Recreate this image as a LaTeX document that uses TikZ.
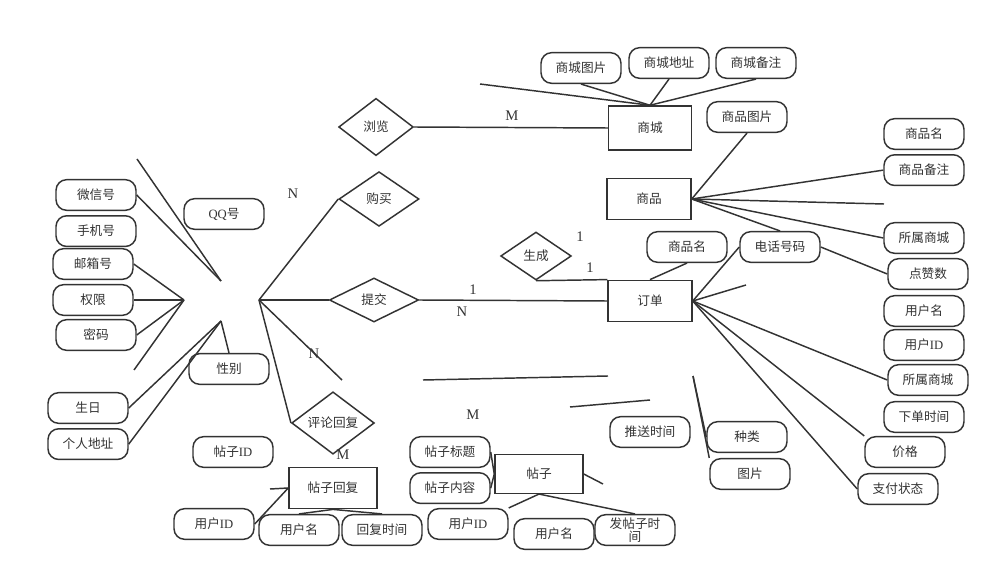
\documentclass[tikz,border=0pt]{standalone}
\usepackage{fontspec}
\setmainfont{Liberation Serif}
\newfontfamily\cjk{Noto Sans CJK SC}
\usetikzlibrary{shapes.geometric,positioning}

\begin{document}
\begin{tikzpicture}[
  x=0.75pt, y=-0.75pt, node distance=3pt,
  font=\cjk\fontsize{9.5}{11}\selectfont,
  attr/.style={rectangle,draw=black!80,line width=1.1pt,rounded corners=8pt,fill=white,align=center,minimum width=60pt,minimum height=23pt,inner sep=1pt,text=black!80},
  ent/.style={rectangle,draw=black!80,line width=1.1pt,fill=white,minimum width=63pt,minimum height=31pt,inner sep=1pt,text=black!80},
  rel/.style={diamond,draw=black!80,line width=1.1pt,fill=white,inner sep=0pt,minimum width=58pt,minimum height=42pt,text=black!80},
  card/.style={font=\rmfamily\fontsize{11}{12}\selectfont,text=black!80,inner sep=0pt},
  ln/.style={draw=black!80,line width=1.1pt}]
\useasboundingbox (0,0) rectangle (1001,581);
% user attributes (left)
\node[attr] (wx) at (96,195) {微信号};
\node[attr, below=of wx] (sj) {手机号};
\node[attr] (yx) at (93,264) {邮箱号};
\node[attr] (qx) at (93,300) {权限};
\node[attr] (mm) at (96,335) {密码};
\node[attr] (qq) at (224,214) {{\rmfamily QQ}号};
\node[attr] (xb) at (229,369) {性别};
\node[attr] (sr) at (88,408) {生日};
\node[attr, below=of sr] (dz) {个人地址};
% relationships
\node[rel, minimum width=56pt, minimum height=43pt] (ll) at (376,127) {浏览};
\node[rel, minimum width=60pt, minimum height=41pt] (gm) at (379,199) {购买};
\node[rel, minimum width=67pt, minimum height=33pt] (tj) at (374,300) {提交};
\node[rel, minimum width=53pt, minimum height=36pt] (sc) at (536,256) {生成};
\node[rel, minimum width=62pt, minimum height=32pt] (pl) at (333,423) {评论回复};
% entities
\node[ent, minimum width=62pt, minimum height=33pt] (shop) at (650,128) {商城};
\node[ent] (goods) at (649,199) {商品};
\node[ent] (order) at (650,301) {订单};
\node[ent, minimum width=66pt] (reply) at (333,488) {帖子回复};
\node[ent, minimum width=66pt, minimum height=29pt] (post) at (539,474) {帖子};
% shop attributes
\node[attr] (sctp) at (581,68) {商城图片};
\node[attr] (scdz) at (669,63) {商城地址};
\node[attr] (scbz) at (756,63) {商城备注};
% goods attributes
\node[attr] (sptp) at (747,117) {商品图片};
\node[attr] (spm) at (924,134) {商品名};
\node[attr, below=of spm] (spbz) {商品备注};
\node[attr] (sssc) at (924,238) {所属商城};
\node[attr] (dzs) at (928,274) {点赞数};
% order attributes
\node[attr] (ddspm) at (687,247) {商品名};
\node[attr] (dh) at (780,247) {电话号码};
\node[attr] (yhm) at (924,311) {用户名};
\node[attr] (yhid) at (924,345) {用户{\rmfamily ID}};
\node[attr] (sssc2) at (928,380) {所属商城};
\node[attr] (xdsj) at (924,417) {下单时间};
\node[attr] (jg) at (905,452) {价格};
\node[attr] (zfzt) at (898,489) {支付状态};
% post attributes
\node[attr] (tsj) at (650,432) {推送时间};
\node[attr] (zl) at (747,437) {种类};
\node[attr] (tp) at (750,474) {图片};
\node[attr] (tzbt) at (450,452) {帖子标题};
\node[attr, below=of tzbt] (tznr) {帖子内容};
\node[attr] (tzid) at (468,524) {用户{\rmfamily ID}};
\node[attr] (tzyhm) at (554,534) {用户名};
\node[attr, font=\cjk\fontsize{9.5}{9.5}\selectfont] (ftsj) at (635,530) {发帖子时\\间};
% reply attributes
\node[attr] (tid) at (233,452) {帖子{\rmfamily ID}};
\node[attr] (hfid) at (214,524) {用户{\rmfamily ID}};
\node[attr] (hfyhm) at (299,530) {用户名};
\node[attr] (hfsj) at (382,530) {回复时间};
% loose ends
\coordinate (hl) at (184,300);
\coordinate (hm) at (221,281);
\coordinate (hb) at (221,321);
\coordinate (hr) at (259,300);
\coordinate (e1) at (134,370);
\coordinate (e2) at (137,159);
\coordinate (e3) at (342,380);
\coordinate (e4) at (480,84);
\coordinate (e5) at (884,204);
\coordinate (e6) at (746,285);
\coordinate (e7) at (423,380);
\coordinate (e8) at (608,376);
\coordinate (e9) at (570,407);
\coordinate (e10) at (650,400);
\coordinate (e11) at (693,376);
\coordinate (e12) at (603,484);
\coordinate (e13) at (270,489);
% connectors
\draw[ln] (yx.east) -- (hl);
\draw[ln] (qx.east) -- (hl);
\draw[ln] (mm.east) -- (hl);
\draw[ln] (hl) -- (e1);
\draw[ln] (e2) -- (hm);
\draw[ln] (wx.east) -- (hm);
\draw[ln] (hb) -- (sr.east);
\draw[ln] (hb) -- (dz.east);
\draw[ln] (hb) -- (xb.north);
\draw[ln] (hr) -- (gm.west);
\draw[ln] (hr) -- (tj.west);
\draw[ln] (hr) -- (e3);
\draw[ln] (hr) -- (pl.west);
\draw[ln] (ll.east) -- (shop.west);
\draw[ln] (e4) -- (shop.north);
\draw[ln] (sctp.south) -- (shop.north);
\draw[ln] (scdz.south) -- (shop.north);
\draw[ln] (scbz.south) -- (shop.north);
\draw[ln] (goods.east) -- (sptp.south);
\draw[ln] (goods.east) -- (spbz.west);
\draw[ln] (goods.east) -- (e5);
\draw[ln] (goods.east) -- (sssc.west);
\draw[ln] (goods.east) -- (dh.north);
\draw[ln] (dh.east) -- (dzs.west);
\draw[ln] (order.east) -- (dh.west);
\draw[ln] (order.east) -- (e6);
\draw[ln] (order.east) -- (sssc2.west);
\draw[ln] (order.east) -- (jg.north west);
\draw[ln] (order.east) -- (zfzt.west);
\draw[ln] (ddspm.south) -- (order.north);
\draw[ln] (sc.south) -- (order.north west);
\draw[ln] (tj.east) -- (order.west);
\draw[ln] (e7) -- (e8);
\draw[ln] (e9) -- (e10);
\draw[ln] (e11) -- (zl.west);
\draw[ln] (e11) -- (tp.north west);
\draw[ln] (post.east) -- (e12);
\draw[ln] (post.south) -- (tzid.north east);
\draw[ln] (post.south) -- (ftsj.north);
\draw[ln] (tzbt.east) -- (post.west);
\draw[ln] (tznr.east) -- (post.west);
\draw[ln] (e13) -- (reply.west);
\draw[ln] (hfid.east) -- (reply.west);
\draw[ln] (reply.south) -- (hfyhm.north);
\draw[ln] (reply.south) -- (hfsj.north);
% cardinalities
\node[card] (c1) at (512,116) {M};
\node[card] (c2) at (293,194) {N};
\node[card] (c3) at (580,237) {1};
\node[card] (c4) at (590,268) {1};
\node[card] (c5) at (473,290) {1};
\node[card] (c6) at (462,312) {N};
\node[card] (c7) at (314,354) {N};
\node[card] (c8) at (343,455) {M};
\node[card] (c9) at (473,415) {M};
\end{tikzpicture}
\end{document}
